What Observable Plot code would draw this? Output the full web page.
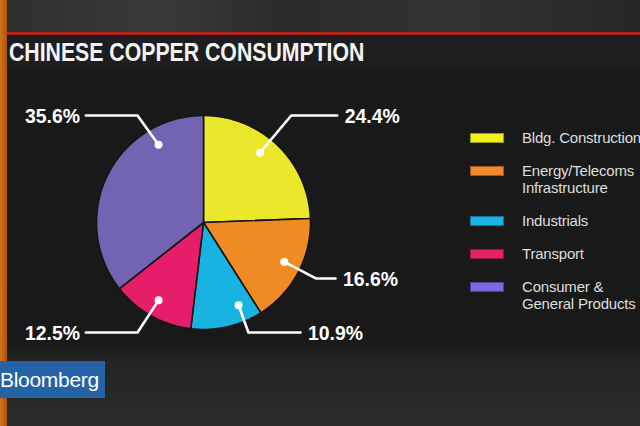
<!DOCTYPE html>
<html>
<head>
<meta charset="utf-8">
<script src="https://cdn.jsdelivr.net/npm/d3@7"></script>
<script src="https://cdn.jsdelivr.net/npm/@observablehq/plot@0.6"></script>
<style>
  html, body { margin: 0; padding: 0; background: #1b1b1c; }
  #wrap { position: relative; width: 640px; height: 426px; overflow: hidden;
    background: linear-gradient(to bottom, #2c2c2d 0px, #262627 30px, #1a1a1b 36px, #19191a 340px, #232424 360px, #2a2b2b 426px);
    font-family: "Liberation Sans", Arial, sans-serif; }
  #topband { position: absolute; left: 0; top: 0; width: 640px; height: 32px;
    background: linear-gradient(to right, #2e2e2f, #3a3a3a 25%, #2a2a2b 45%, #333 70%, #262627); }
  #redline { position: absolute; left: 0; top: 32px; width: 640px; height: 3px; background: #b1241c; }
  #titlebar { position: absolute; left: 0; top: 35px; width: 640px; height: 34px; background: #1e1e20; }
  #title { position: absolute; left: 9px; top: 40px; font-size: 25px; line-height: 25px; font-weight: bold;
    color: #f4f4f4; white-space: nowrap; transform: scaleX(0.85); transform-origin: left center; }
  #strip { position: absolute; left: 0; top: 0; width: 7px; height: 426px;
    background: linear-gradient(to right, #d6731a, #a9530c); }
  #chart { position: absolute; left: 0; top: 0; }
  #legend { position: absolute; left: 470px; top: 129px; display: flex; flex-direction: column; gap: 16px; }
  .row { display: flex; align-items: flex-start; }
  .sw { width: 34px; height: 10px; margin-top: 3.5px; margin-right: 18px; box-sizing: border-box; border: 1px solid rgba(0,0,0,0.35); }
  .lbl { color: #dedede; font-size: 15px; line-height: 17px; white-space: nowrap; letter-spacing: -0.2px; }
  #bb { position: absolute; left: 0; top: 361px; width: 105px; height: 37px; background: #2662a6; }
  #bbtext { position: absolute; left: 0px; top: 369px; color: #fff; font-size: 21px; line-height: 21px; letter-spacing: -0.3px; }
</style>
</head>
<body>
<div id="wrap">
  <div id="topband"></div>
  <div id="redline"></div>
  <div id="titlebar"></div>
  <div id="strip"></div>
  <div id="title"></div>
  <div id="chart"></div>
  <div id="legend"></div>
  <div id="bb"></div>
  <div id="bbtext"></div>
</div>
<script>
// ---- data ----
const titleText = "CHINESE COPPER CONSUMPTION";
const categories = ["Bldg. Construction", "Energy/Telecoms Infrastructure", "Industrials", "Transport", "Consumer & General Products"];
const shares = [24.4, 16.6, 10.9, 12.5, 35.6];
const valueLabels = ["24.4%", "16.6%", "10.9%", "12.5%", "35.6%"];
const legendLines = [["Bldg. Construction"], ["Energy/Telecoms", "Infrastructure"], ["Industrials"], ["Transport"], ["Consumer &", "General Products"]];
const sourceText = "Bloomberg";

// ---- styles / layout ----
const pieColors = ["#ebe82b", "#ef8a24", "#19b3e3", "#e61e69", "#7263b3"];
const legendColors = ["#f2f020", "#f08a2c", "#1ab4e6", "#e5245f", "#7d68e0"];
// leader routing in units of pie radius (dot angle in degrees clockwise from top)
const leaderLayout = [
  {dotAngle: 39, rowY: 1.0, elbowX: 0.82, endX: 1.25},
  {dotAngle: 116, rowY: -0.523, elbowX: 1.05, endX: 1.234},
  {dotAngle: 157, rowY: -1.028, elbowX: 0.42, endX: 0.907},
  {dotAngle: 210, rowY: -1.028, elbowX: -0.617, endX: -1.10},
  {dotAngle: 330, rowY: 1.0, elbowX: -0.617, endX: -1.10}
];
const R = 107, CX = 203, CY = 222, W = 640, H = 426;

document.getElementById("title").textContent = titleText;
document.getElementById("bbtext").textContent = sourceText;

// pie polygons
const total = d3.sum(shares);
const slices = [];
let acc = 0;
categories.forEach((c, i) => {
  const a0 = acc / total * 2 * Math.PI;
  acc += shares[i];
  const a1 = acc / total * 2 * Math.PI;
  slices.push({cat: c, x: 0, y: 0});
  const n = Math.max(8, Math.ceil((a1 - a0) / 0.01));
  for (let k = 0; k <= n; k++) {
    const a = a0 + (a1 - a0) * k / n;
    slices.push({cat: c, x: Math.sin(a), y: Math.cos(a)});
  }
});

// leaders
const leaderPts = [], dots = [], labels = [];
categories.forEach((c, i) => {
  const L = leaderLayout[i];
  const a = L.dotAngle * Math.PI / 180;
  const d = {cat: c, x: 0.84 * Math.sin(a), y: 0.84 * Math.cos(a)};
  dots.push(d);
  leaderPts.push(d, {cat: c, x: L.elbowX, y: L.rowY}, {cat: c, x: L.endX, y: L.rowY});
  const right = L.endX > 0;
  labels.push({cat: c, x: L.endX + (right ? 0.07 : -0.055), y: L.rowY, text: valueLabels[i], anchor: right ? "start" : "end"});
});

const textOpts = {x: "x", y: "y", text: "text", fill: "#ffffff", fontSize: 20, fontWeight: "bold", dy: 1, fontFamily: "Liberation Sans, Arial, sans-serif"};
const plot = Plot.plot({
  width: W, height: H,
  marginTop: 0, marginRight: 0, marginBottom: 0, marginLeft: 0,
  style: {background: "transparent", overflow: "visible"},
  x: {domain: [-CX / R, (W - CX) / R], range: [0, W], axis: null},
  y: {domain: [-(H - CY) / R, CY / R], range: [H, 0], axis: null},
  color: {domain: categories, range: pieColors},
  marks: [
    Plot.line(slices, {x: "x", y: "y", z: "cat", fill: "cat", stroke: "#151515", strokeWidth: 1.6, curve: "linear-closed", strokeLinejoin: "round"}),
    Plot.line(leaderPts, {x: "x", y: "y", z: "cat", stroke: "#ffffff", strokeWidth: 2.6, strokeLinejoin: "round"}),
    Plot.dot(dots, {x: "x", y: "y", r: 4, fill: "#ffffff"}),
    Plot.text(labels.filter(d => d.anchor === "start"), {...textOpts, textAnchor: "start"}),
    Plot.text(labels.filter(d => d.anchor === "end"), {...textOpts, textAnchor: "end"})
  ]
});
plot.querySelectorAll("text").forEach(t => {
  t.setAttribute("textLength", "55");
  t.setAttribute("lengthAdjust", "spacingAndGlyphs");
});
document.getElementById("chart").appendChild(plot);

// legend
const leg = document.getElementById("legend");
categories.forEach((c, i) => {
  const row = document.createElement("div"); row.className = "row";
  const sw = document.createElement("div"); sw.className = "sw"; sw.style.background = legendColors[i];
  const lb = document.createElement("div"); lb.className = "lbl";
  legendLines[i].forEach((s, j) => { if (j) lb.appendChild(document.createElement("br")); lb.appendChild(document.createTextNode(s)); });
  row.appendChild(sw); row.appendChild(lb); leg.appendChild(row);
});
</script>
</body>
</html>
